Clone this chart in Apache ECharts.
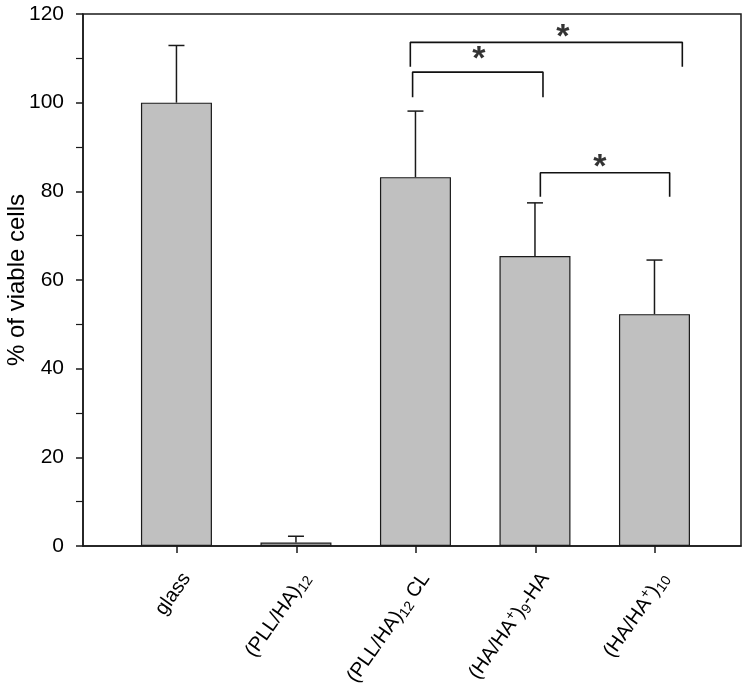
<!DOCTYPE html>
<html>
<head>
<meta charset="utf-8">
<script src="https://cdn.jsdelivr.net/npm/echarts@6/dist/echarts.min.js"></script>
<style>html,body{margin:0;padding:0;background:#fff}#c{width:753px;height:688px}</style>
</head>
<body>
<div id="c"></div>
<script>
const categories = ['glass', '(PLL/HA)12', '(PLL/HA)12 CL', '(HA/HA+)9-HA', '(HA/HA+)10'];
const tickLabels = [
  '{t|glass}',
  '{t|(PLL/HA)}{sub|12}',
  '{t|(PLL/HA)}{sub|12}{t| CL}',
  '{t|(HA/HA}{sup|+}{t|)}{sub|9}{t|-HA}',
  '{t|(HA/HA}{sup|+}{t|)}{sub|10}'
];
const means = [100, 0.8, 83.2, 65.4, 52.3];
const errors = [12.9, 1.4, 14.9, 12.0, 12.2];
const yTicks = [0, 20, 40, 60, 80, 100, 120];
// significance brackets: [xLeft, xRight, yTop, yDropEnd]
const brackets = [
  [1.957, 4.233, 113.6, 108.1],
  [1.976, 3.067, 106.9, 101.2],
  [3.045, 4.127, 84.2, 78.8]
];
// star marks: [x, y]
const stars = [[3.234, 114.6], [2.531, 109.6], [3.544, 85.4]];

const FONT = '"Liberation Sans", Arial, Helvetica, sans-serif';
const INK = '#000';
const chart = echarts.init(document.getElementById('c'), null, {renderer: 'canvas'});

const barData = means.map((v, i) => [i, v]);
const errData = means.map((v, i) => [i, v, v + errors[i]]);

const series = [
  {
    type: 'bar', xAxisIndex: 0, yAxisIndex: 0,
    data: barData, barWidth: 71,
    itemStyle: {color: '#c0c0c0', borderColor: '#1a1a1a', borderWidth: 1.2},
    silent: true, z: 2
  },
  {
    type: 'custom', xAxisIndex: 0, yAxisIndex: 0,
    data: errData,
    renderItem: function (params, api) {
      const x = api.value(0);
      const p0 = api.coord([x, api.value(1)]);
      const p1 = api.coord([x, api.value(2)]);
      const hw = 8;
      return {
        type: 'group',
        children: [
          {type: 'line', shape: {x1: p0[0], y1: p0[1], x2: p1[0], y2: p1[1]}, style: {stroke: '#1a1a1a', lineWidth: 1.5}},
          {type: 'line', shape: {x1: p1[0] - hw, y1: p1[1], x2: p1[0] + hw, y2: p1[1]}, style: {stroke: '#1a1a1a', lineWidth: 1.5}}
        ]
      };
    },
    silent: true, z: 3
  }
];
brackets.forEach(b => {
  series.push({
    type: 'line', xAxisIndex: 0, yAxisIndex: 0,
    data: [[b[0], b[3]], [b[0], b[2]], [b[1], b[2]], [b[1], b[3]]],
    symbol: 'none', lineStyle: {color: '#111', width: 1.6}, silent: true, z: 4
  });
});
series.push({
  type: 'scatter', xAxisIndex: 0, yAxisIndex: 0,
  data: stars, symbolSize: 0,
  label: {show: true, position: 'inside', formatter: '*', fontSize: 34, fontWeight: 'bold', color: INK, fontFamily: FONT},
  silent: true, z: 5
});

chart.setOption({
  animation: false,
  backgroundColor: '#fff',
  grid: [
    {left: 83, right: 12, top: 14, bottom: 142, show: true, borderColor: '#1a1a1a', borderWidth: 1.5, backgroundColor: 'transparent', containLabel: false, outerBoundsMode: 'none'},
    {left: 117, right: 38.5, top: 14, bottom: 142, containLabel: false, outerBoundsMode: 'none'}
  ],
  xAxis: [
    {type: 'value', gridIndex: 0, min: -0.782, max: 4.724,
      axisLine: {show: true, onZero: false, lineStyle: {color: '#1a1a1a', width: 1.5}},
      axisTick: {show: false}, axisLabel: {show: false}, splitLine: {show: false}},
    {type: 'category', gridIndex: 1, data: categories, boundaryGap: true,
      axisLine: {show: false, onZero: false},
      axisTick: {show: true, alignWithLabel: true, length: 7, lineStyle: {color: '#1a1a1a', width: 1.5}},
      axisLabel: {
        show: true, interval: 0, rotate: 55, margin: 22, color: INK, verticalAlign: 'top',
        formatter: function (v, i) { return tickLabels[i]; },
        rich: {
          t: {fontSize: 20, fontFamily: FONT, color: INK, lineHeight: 24},
          sub: {fontSize: 14, fontFamily: FONT, color: INK, lineHeight: 14, verticalAlign: 'bottom'},
          sup: {fontSize: 14, fontFamily: FONT, color: INK, lineHeight: 14, verticalAlign: 'top'}
        }
      },
      splitLine: {show: false}}
  ],
  yAxis: [
    {type: 'value', gridIndex: 0, min: 0, max: 120, interval: 20,
      name: '% of viable cells', nameLocation: 'middle', nameGap: 54, nameRotate: 90,
      nameMoveOverlap: false,
      nameTextStyle: {fontSize: 24, fontFamily: FONT, color: INK},
      axisLine: {show: true, onZero: false, lineStyle: {color: '#1a1a1a', width: 1.5}},
      axisTick: {show: true, length: 7, lineStyle: {color: '#1a1a1a', width: 1.5}},
      minorTick: {show: true, splitNumber: 2, length: 7, lineStyle: {color: '#1a1a1a', width: 1.2}},
      axisLabel: {fontSize: 21, fontFamily: FONT, color: INK, margin: 19,
        formatter: function (v) { return yTicks.indexOf(v) >= 0 ? String(v) : ''; }},
      splitLine: {show: false}, minorSplitLine: {show: false}},
    {type: 'value', gridIndex: 1, min: 0, max: 120, show: false}
  ],
  series: series
});
</script>
</body>
</html>
